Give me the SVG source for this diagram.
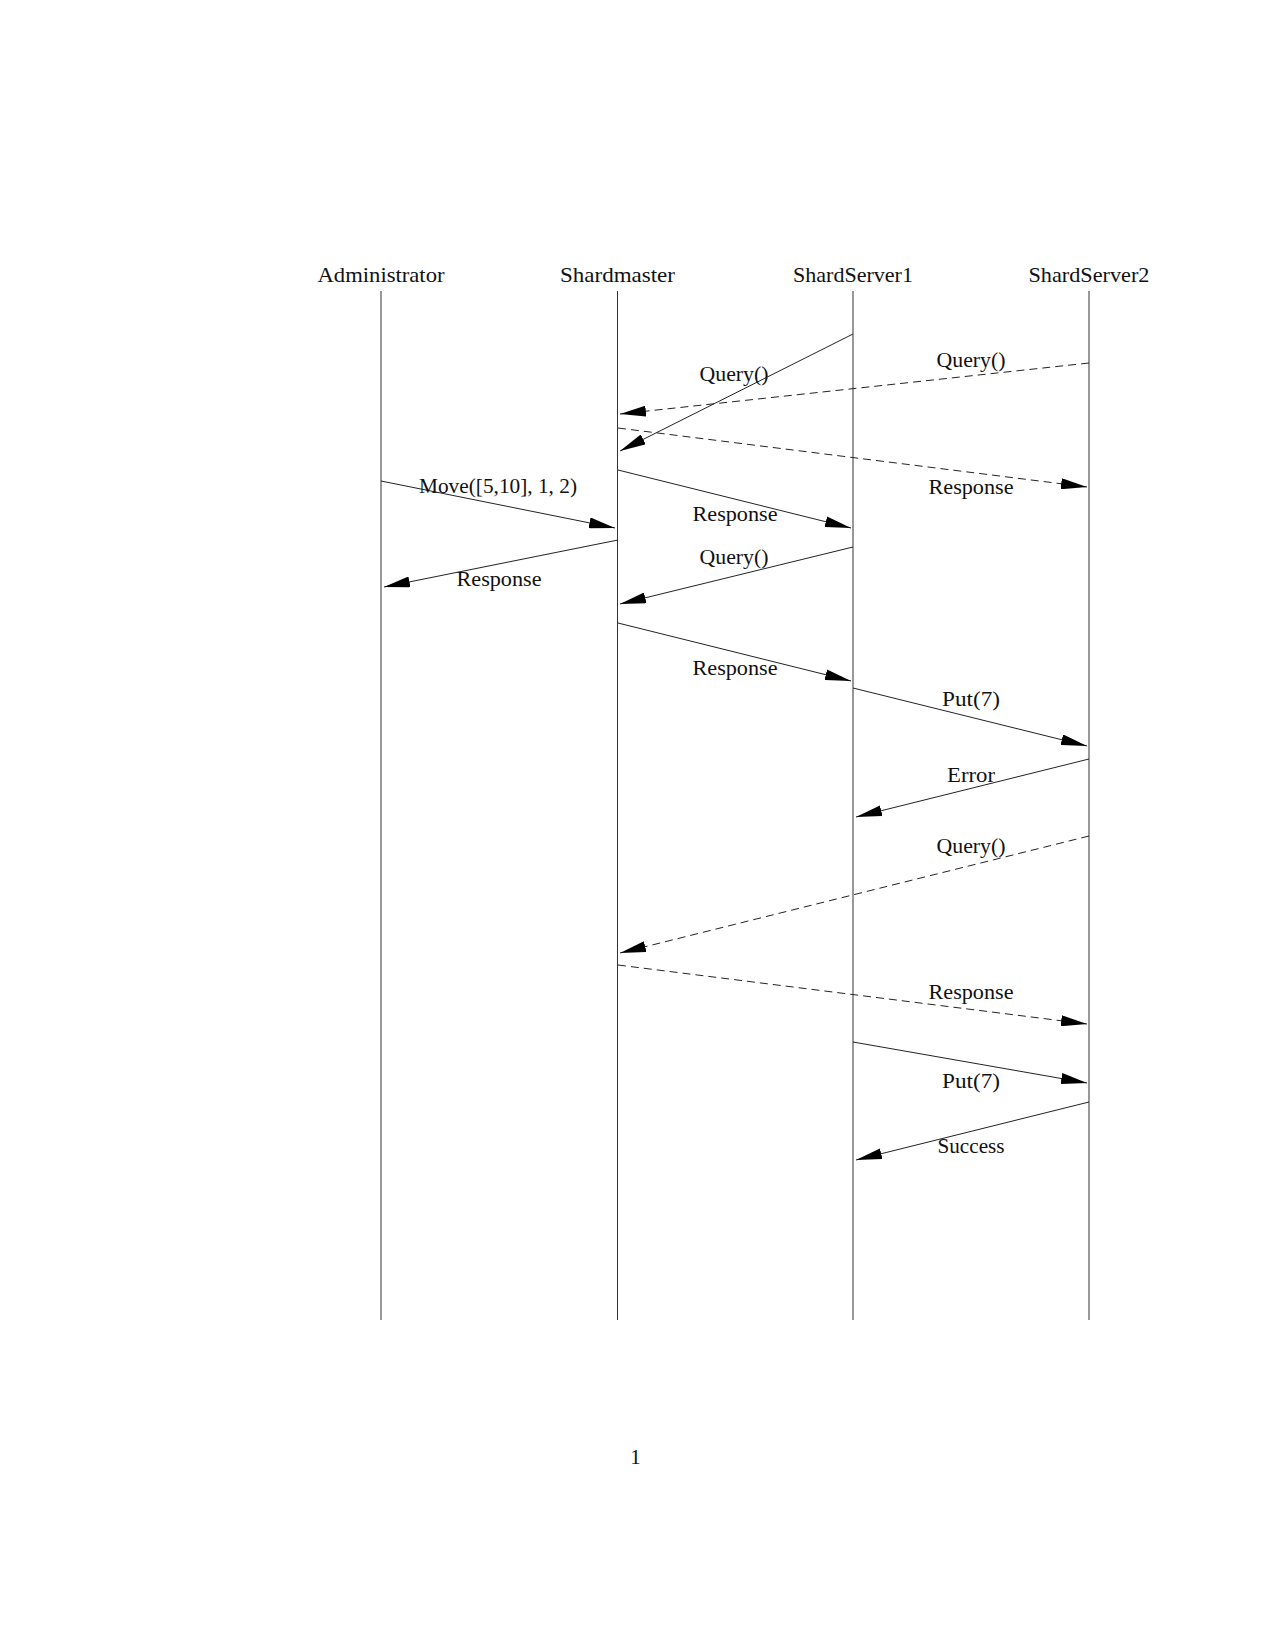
<svg xmlns="http://www.w3.org/2000/svg" width="1275" height="1650" viewBox="0 0 1275 1650">
<style>
text{font-family:"Liberation Serif","Times New Roman",serif;font-size:21px;fill:#111;text-anchor:middle}
.life{stroke:#333;stroke-width:1;fill:none}
.msg{stroke:#222;stroke-width:1;fill:none;marker-end:url(#ah)}
.dash{stroke-dasharray:8 5}
</style>
<defs>
<marker id="ah" markerUnits="userSpaceOnUse" viewBox="0 0 26 11" refX="26" refY="5.5" markerWidth="26" markerHeight="11" orient="auto">
<path d="M0,0 L26,5.5 L0,11 Z" fill="#000" stroke="none"/>
</marker>
</defs>
<rect width="1275" height="1650" fill="#fff"/>
<g id="administrator">
<text x="381" y="282" textLength="127" lengthAdjust="spacingAndGlyphs">Administrator</text>
<line class="life" x1="381" y1="291" x2="381" y2="1320"/>
</g>
<g id="shardmaster">
<text x="617.5" y="282" textLength="115" lengthAdjust="spacingAndGlyphs">Shardmaster</text>
<line class="life" x1="617.5" y1="291" x2="617.5" y2="1320"/>
</g>
<g id="shardserver1">
<text x="853" y="282" textLength="120" lengthAdjust="spacingAndGlyphs">ShardServer1</text>
<line class="life" x1="853" y1="291" x2="853" y2="1320"/>
</g>
<g id="shardserver2">
<text x="1089" y="282" textLength="121" lengthAdjust="spacingAndGlyphs">ShardServer2</text>
<line class="life" x1="1089" y1="291" x2="1089" y2="1320"/>
</g>
<g id="connectors">
<line class="msg" x1="853" y1="334" x2="620" y2="451"/>
<text x="734" y="381" textLength="69" lengthAdjust="spacingAndGlyphs">Query()</text>
<line class="msg dash" x1="1089" y1="363" x2="620" y2="414"/>
<text x="971" y="367" textLength="69" lengthAdjust="spacingAndGlyphs">Query()</text>
<line class="msg dash" x1="618" y1="428" x2="1087" y2="487"/>
<text x="971" y="494" textLength="85" lengthAdjust="spacingAndGlyphs">Response</text>
<line class="msg" x1="381" y1="481" x2="615" y2="528"/>
<text x="498" y="493" textLength="158" lengthAdjust="spacingAndGlyphs">Move([5,10], 1, 2)</text>
<line class="msg" x1="618" y1="470" x2="851" y2="528"/>
<text x="735" y="521" textLength="85" lengthAdjust="spacingAndGlyphs">Response</text>
<line class="msg" x1="618" y1="540" x2="384" y2="587"/>
<text x="499" y="586" textLength="85" lengthAdjust="spacingAndGlyphs">Response</text>
<line class="msg" x1="853" y1="547" x2="620" y2="604"/>
<text x="734" y="564" textLength="69" lengthAdjust="spacingAndGlyphs">Query()</text>
<line class="msg" x1="618" y1="623" x2="851" y2="681"/>
<text x="735" y="675" textLength="85" lengthAdjust="spacingAndGlyphs">Response</text>
<line class="msg" x1="853" y1="688" x2="1087" y2="746"/>
<text x="971" y="706" textLength="58" lengthAdjust="spacingAndGlyphs">Put(7)</text>
<line class="msg" x1="1089" y1="759" x2="856" y2="817"/>
<text x="971" y="782" textLength="48" lengthAdjust="spacingAndGlyphs">Error</text>
<line class="msg dash" x1="1089" y1="836" x2="620" y2="953"/>
<text x="971" y="853" textLength="69" lengthAdjust="spacingAndGlyphs">Query()</text>
<line class="msg dash" x1="618" y1="965" x2="1087" y2="1024"/>
<text x="971" y="999" textLength="85" lengthAdjust="spacingAndGlyphs">Response</text>
<line class="msg" x1="853" y1="1042" x2="1087" y2="1083"/>
<text x="971" y="1088" textLength="58" lengthAdjust="spacingAndGlyphs">Put(7)</text>
<line class="msg" x1="1089" y1="1102" x2="856" y2="1160"/>
<text x="971" y="1153" textLength="67" lengthAdjust="spacingAndGlyphs">Success</text>
</g>
<text x="635.5" y="1464">1</text>
</svg>
